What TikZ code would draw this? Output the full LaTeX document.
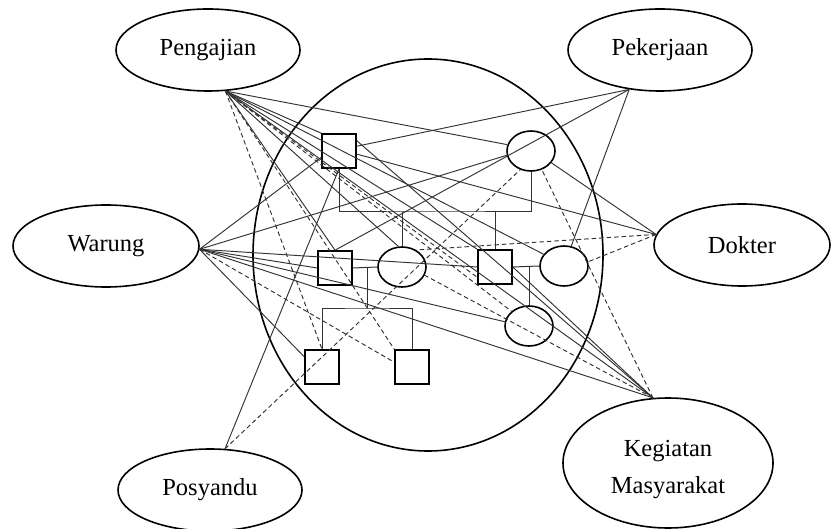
\documentclass[tikz,border=0pt]{standalone}
\usepackage{fontspec}
\setmainfont{Liberation Serif}
\usetikzlibrary{shapes.geometric}

\begin{document}
\begin{tikzpicture}[x=1pt,y=-1pt, every node/.style={font=\fontsize{24.5}{37}\selectfont},
	luar/.style={ellipse,draw,line width=1.6pt,inner sep=0pt,minimum width=184pt,minimum height=82pt},
	laki/.style={rectangle,draw,line width=1.6pt,inner sep=0pt,minimum size=34pt},
	perempuan/.style={ellipse,draw,line width=1.6pt,inner sep=0pt,minimum width=48pt,minimum height=40pt},
	garis/.style={black!80,line width=0.95pt},
	putus/.style={garis,dash pattern=on 4.5pt off 3pt},
	silsilah/.style={black!80,line width=1pt}]
			\useasboundingbox (0,0) rectangle (832,529);
			\def\pj{pengajian.-67}
			\def\pk{pekerjaan.-128}
			\def\dk{dokter.173}
			\def\wr{warung.-2}
			\def\ps{posyandu.70}
			\def\km{kegiatan.103}
			
			% lingkaran keluarga
			\draw[line width=1.6pt] (428,255) ellipse [x radius=175pt, y radius=196pt];
			
			% lembaga di luar keluarga
			\node[luar] (pengajian) at (208,50) {Pengajian};
			\node[luar] (pekerjaan) at (660,50) {Pekerjaan};
			\node[luar,minimum width=176pt] (dokter) at (742,245) {Dokter};
			\node[luar,minimum width=186pt] (warung) at (106,246) {Warung};
			\node[luar] (posyandu) at (210,490) {Posyandu};
			\node[luar,minimum width=210pt,minimum height=130pt,align=center] (kegiatan) at (668,463) {\rule{0pt}{29pt}Kegiatan\\Masyarakat};
			
			% anggota keluarga (L = laki-laki, P = perempuan)
			\node[laki] (L1) at (339,151) {};
			\node[perempuan] (P1) at (531,151) {};
			\node[laki] (L2) at (335,268) {};
			\node[perempuan] (P2) at (402,267) {};
			\node[laki] (L3) at (495,267) {};
			\node[perempuan] (P3) at (564,266) {};
			\node[perempuan] (P4) at (529,326) {};
			\node[laki] (L4) at (322,367) {};
			\node[laki] (L5) at (412,367) {};
			
			% garis keturunan
			\coordinate (k1) at (436,212);
			\coordinate (k2) at (367,308);
			\draw[silsilah] (L1.south) |- (k1) -| (P1.south);
			\draw[silsilah] (P2.north) -- (P2.north |- k1);
			\draw[silsilah] (L3.north) -- (L3.north |- k1);
			\draw[silsilah] (L2.east) -- (P2.west);
			\draw[silsilah] (k2 |- L2.east) -- (k2);
			\draw[silsilah] (L4.north) |- (k2) -| (L5.north);
			\draw[silsilah] (L3.east) -- (P3.west);
			\draw[silsilah] (P4.north) -- (P4.north |- L3.east);
			
			% hubungan dengan lembaga
			\foreach \t in {P1.165, L1.north west, L2.north, P2.100, P3.150, L3.north west, \km}
			{
				\draw[garis] (\pj) -- (\t);
			}
			\foreach \t in {P4.140, L3.210, L4.north, L5.north west}
				\draw[putus] (\pj) -- (\t);
			\foreach \t in {L1.15, L2.north, P3.70}
				\draw[garis] (\pk) -- (\t);
			\foreach \t in {L1.-10, P1.-30}
				\draw[garis] (\dk) -- (\t);
			\foreach \t in {P2.50, P3.10}
				\draw[putus] (\dk) -- (\t);
			\foreach \t in {L1.200, P1.190, L2.west, L3.west, P4.170, \km, L4.150}
				\draw[garis] (\wr) -- (\t);
			\draw[putus] (\wr) -- (L5.165);
			\draw[garis] (\ps) -- (L1.south);
			\draw[putus] (\ps) -- (P1.-120);
			\foreach \t in {L1.30, L3.east}
				\draw[garis] (\km) -- (\t);
			\foreach \t in {P1.-60, P2.-20}
				\draw[putus] (\km) -- (\t);
\end{tikzpicture}
\end{document}
